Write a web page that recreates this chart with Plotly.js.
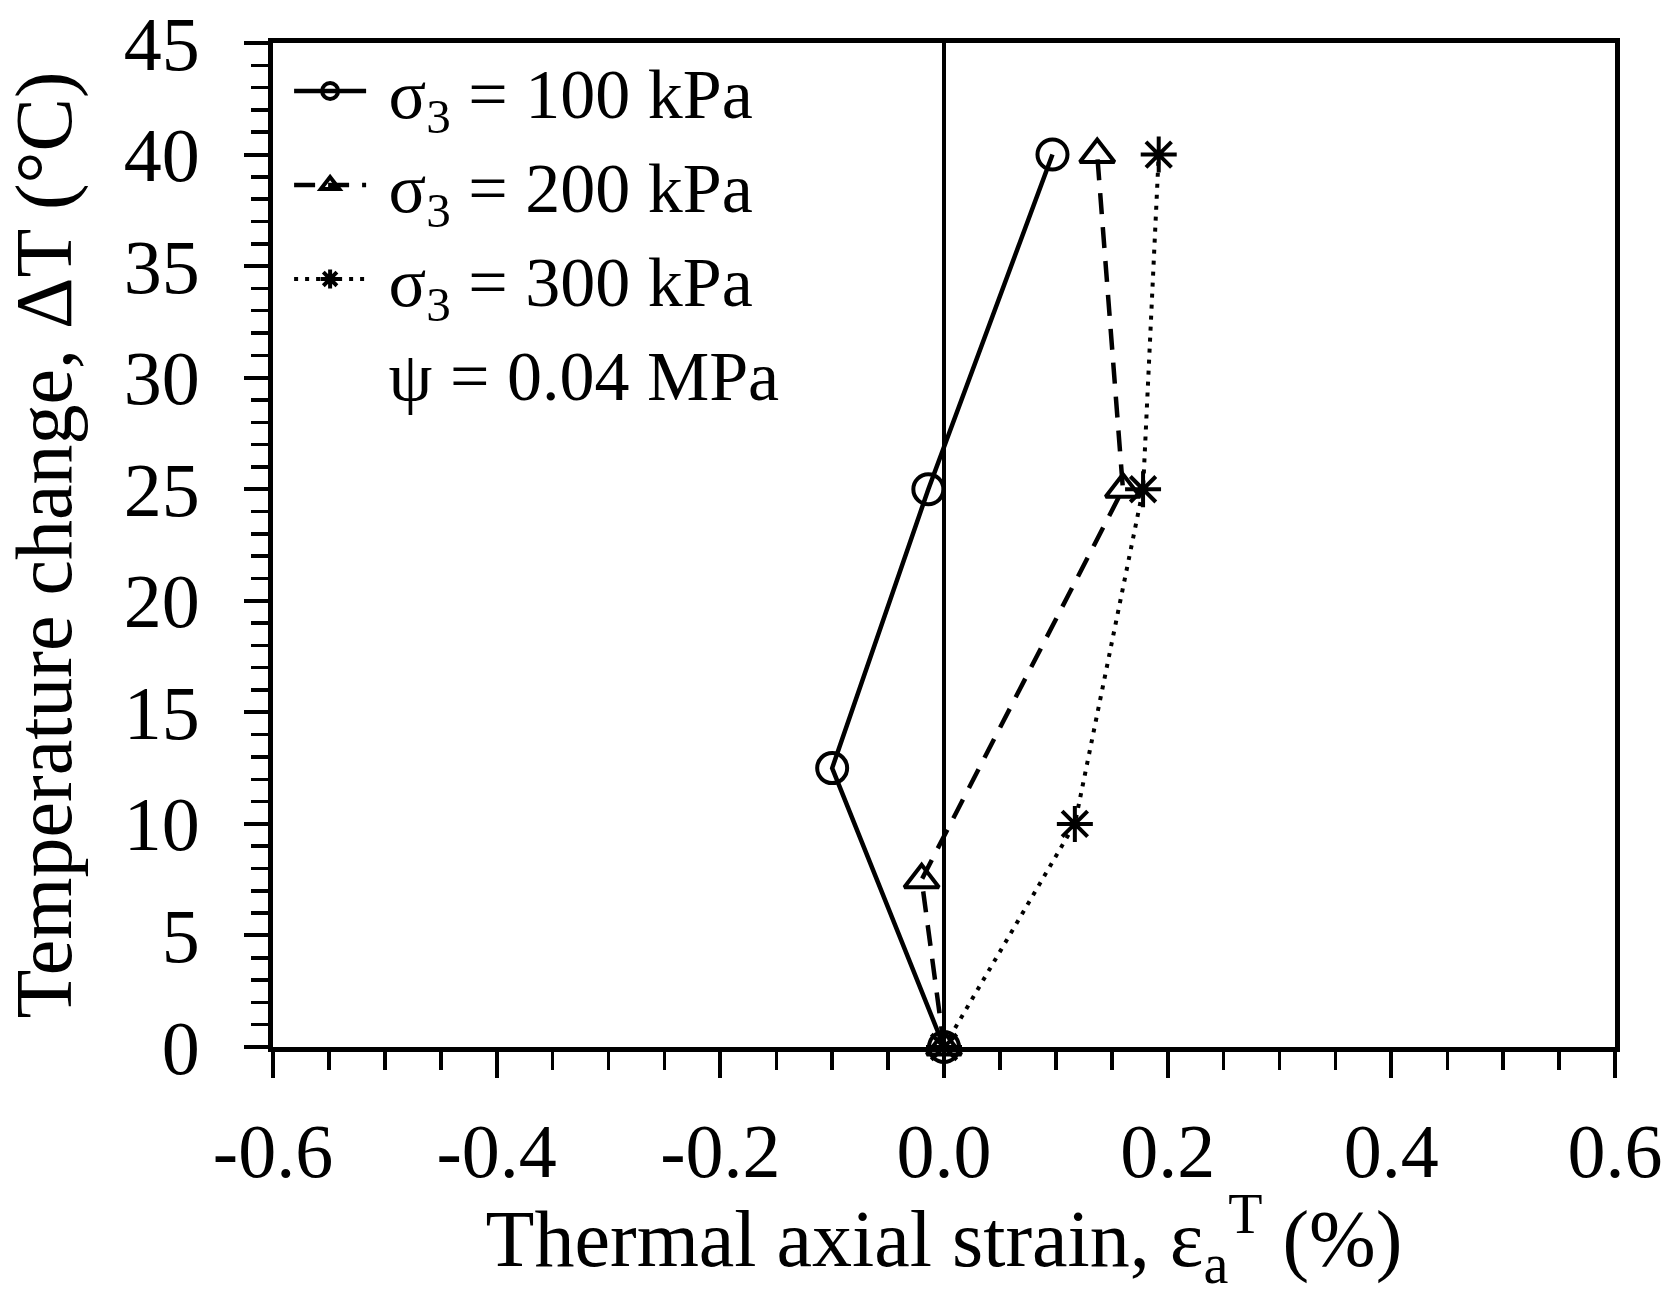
<!DOCTYPE html>
<html>
<head>
<meta charset="utf-8">
<script src="https://cdn.plot.ly/plotly-3.0.1.min.js"></script>
<style>html,body{margin:0;padding:0;background:#fff;}#chart{width:1672px;height:1295px;}</style>
</head>
<body>
<div id="chart"></div>
<script>
// Data
var names = ["\u00a0σ<sub>3</sub> = 100 kPa", "\u00a0σ<sub>3</sub> = 200 kPa", "\u00a0σ<sub>3</sub> = 300 kPa"];
var noteText = "\u00a0ψ = 0.04 MPa";
var strain100 = [0.0, -0.100, -0.014, 0.097];
var temp100   = [0, 12.5, 25, 40];
var strain200 = [0.0, -0.020, 0.160, 0.137];
var temp200   = [0, 7.5, 25, 40];
var strain300 = [0.0, 0.117, 0.178, 0.192];
var temp300   = [0, 10, 25, 40];
var xTickVals = [-0.6, -0.4, -0.2, 0.0, 0.2, 0.4, 0.6];
var xTickText = ["-0.6", "-0.4", "-0.2", "0.0", "0.2", "0.4", "0.6"];
var yTickVals = [0, 5, 10, 15, 20, 25, 30, 35, 40, 45];
var yTickText = ["0", "5", "10", "15", "20", "25", "30", "35", "40", "45"];
var xTitle = "Thermal axial strain, ε<sub>a</sub><sup>T</sup> (%)";
var yTitle = "Temperature change, ΔT (°C)";

var FONT = "Liberation Serif, Times New Roman, serif";
var traces = [
  {x: strain100, y: temp100, name: names[0], mode: "lines+markers", cliponaxis: false,
   line: {color: "black", width: 4.5, dash: "solid"},
   marker: {symbol: "circle-open", size: 30, color: "black", line: {color: "black", width: 4}}},
  {x: strain200, y: temp200, name: names[1], mode: "lines+markers", cliponaxis: false,
   line: {color: "black", width: 4.5, dash: "21px,13px"},
   marker: {symbol: "triangle-up-open", size: 30, color: "black", line: {color: "black", width: 4}}},
  {x: strain300, y: temp300, name: names[2], mode: "lines+markers", cliponaxis: false,
   line: {color: "black", width: 4, dash: "4px,7px"},
   marker: {symbol: "asterisk-open", size: 30, color: "black", line: {color: "black", width: 4}}},
  {x: [null], y: [null], name: noteText, mode: "lines", line: {color: "rgba(0,0,0,0)", width: 0}}
];

var layout = {
  width: 1672, height: 1295,
  margin: {l: 273, r: 57, t: 43, b: 248},
  paper_bgcolor: "white", plot_bgcolor: "white",
  font: {family: FONT, color: "black", size: 76},
  showlegend: true,
  legend: {x: 0.012, y: 1.004, xanchor: "left", yanchor: "top", bgcolor: "rgba(0,0,0,0)",
           font: {family: FONT, size: 70, color: "black"}, itemwidth: 72, tracegroupgap: 0},
  xaxis: {
    range: [-0.6, 0.6], tickmode: "array", tickvals: xTickVals, ticktext: xTickText,
    ticks: "outside", ticklen: 26, tickwidth: 4, tickcolor: "black",
    showline: true, linecolor: "black", linewidth: 5, mirror: true,
    showgrid: false, zeroline: true, zerolinecolor: "black", zerolinewidth: 4,
    ticklabelstandoff: 8,
    tickfont: {family: FONT, size: 76, color: "black"},
    minor: {dtick: 0.05, ticks: "outside", ticklen: 18, tickwidth: 3.5, tickcolor: "black", showgrid: false},
    title: {text: xTitle, font: {family: FONT, size: 80, color: "black"}, standoff: 28}
  },
  yaxis: {
    range: [0, 45], tickmode: "array", tickvals: yTickVals, ticktext: yTickText,
    ticks: "outside", ticklen: 24, tickwidth: 4, tickcolor: "black",
    showline: true, linecolor: "black", linewidth: 5, mirror: true,
    showgrid: false, zeroline: false,
    ticklabelstandoff: 29,
    tickfont: {family: FONT, size: 76, color: "black"},
    minor: {dtick: 1, ticks: "outside", ticklen: 17, tickwidth: 3.5, tickcolor: "black", showgrid: false},
    title: {text: yTitle, font: {family: FONT, size: 80, color: "black"}, standoff: 31}
  }
};

Plotly.newPlot("chart", traces, layout, {displayModeBar: false, staticPlot: true});
</script>
</body>
</html>
